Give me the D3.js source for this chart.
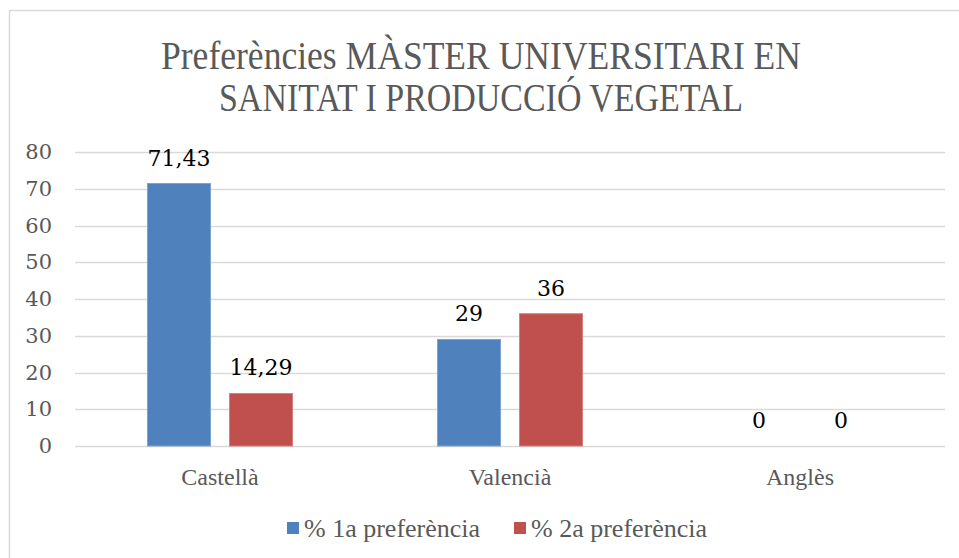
<!DOCTYPE html>
<html>
<head>
<meta charset="utf-8">
<script src="https://cdn.jsdelivr.net/npm/d3@7"></script>
<style>
  body { margin: 0; background: #fff; }
  text { font-family: "Liberation Serif", "DejaVu Serif", serif; }
</style>
</head>
<body>
<div id="chart"></div>
<script>
var titleLines = ["Preferències MÀSTER UNIVERSITARI EN", "SANITAT I PRODUCCIÓ VEGETAL"];
var categories = ["Castellà", "Valencià", "Anglès"];
var seriesNames = ["% 1a preferència", "% 2a preferència"];
var first = [71.43, 29, 0];
var second = [14.29, 36, 0];
var labels1 = ["71,43", "29", "0"];
var labels2 = ["14,29", "36", "0"];
var yTicks = [0, 10, 20, 30, 40, 50, 60, 70, 80];
var colors = ["#4F81BD", "#C0504D"];
var strokes = ["#7FA3D1", "#D47F7D"];

(function () {
    var W = 959, H = 558;
    var margin = { top: 152, left: 75, right: 14, bottom: 112 },
        width = W - margin.left - margin.right,
        height = H - margin.top - margin.bottom;

    // stretch / squeeze text to mimic the metrics of the original font
    function fitWidth(sel, k) {
        sel.each(function () {
            var w = this.getComputedTextLength();
            d3.select(this).attr("textLength", w * k).attr("lengthAdjust", "spacingAndGlyphs");
        });
    }

    var svg = d3.select("#chart").append("svg")
        .attr("width", W).attr("height", H);

    // outer frame (cropped at right and bottom)
    svg.append("rect")
        .attr("x", 9.5).attr("y", 10.5)
        .attr("width", 1000).attr("height", 1000)
        .attr("fill", "none").attr("stroke", "#D9D9D9").attr("stroke-width", 1.5);

    svg.selectAll(".title").data(titleLines).enter().append("text")
        .attr("x", 481).attr("y", (d, i) => 69 + i * 42)
        .attr("text-anchor", "middle")
        .attr("font-size", 40).attr("fill", "#595959")
        .attr("textLength", (d, i) => i === 0 ? 640 : 524)
        .attr("lengthAdjust", "spacingAndGlyphs")
        .text(d => d);

    var g = svg.append("g")
        .attr("transform", "translate(" + margin.left + "," + margin.top + ")");

    var x0 = d3.scaleBand().domain(categories).range([0, width]).paddingInner(0).paddingOuter(0);
    var x1 = d3.scaleBand().domain([0, 1]).range([72, x0.bandwidth() - 72]).paddingInner(0.22);
    var y = d3.scaleLinear().domain([0, 80]).range([height, 0]);

    g.selectAll(".grid").data(yTicks).enter().append("line")
        .attr("x1", 0).attr("x2", width)
        .attr("y1", d => Math.round(y(d)) + 0.5).attr("y2", d => Math.round(y(d)) + 0.5)
        .attr("stroke", "#D9D9D9").attr("stroke-width", 1.5);

    var yAxis = g.append("g")
        .call(d3.axisLeft(y).tickValues(yTicks).tickSize(0).tickPadding(23));
    yAxis.attr("font-family", null);
    yAxis.select(".domain").remove();
    yAxis.selectAll("text")
        .attr("font-size", 21).attr("fill", "#595959")
        .style("font-family", "'DejaVu Serif', serif");

    var xAxis = g.append("g")
        .attr("transform", "translate(0," + height + ")")
        .call(d3.axisBottom(x0).tickSize(0).tickPadding(22));
    xAxis.attr("font-family", null);
    xAxis.select(".domain").remove();
    xAxis.selectAll("text")
        .attr("font-size", 24).attr("fill", "#595959")
        .style("font-family", "'Liberation Serif', serif")
        .call(fitWidth, 1.0);

    var series = [first, second];
    var seriesLabels = [labels1, labels2];

    series.forEach(function (vals, s) {
        var data = categories.map((c, i) => ({ c: c, v: vals[i], l: seriesLabels[s][i] }));
        g.selectAll(".bar" + s).data(data.filter(d => d.v > 0)).enter().append("rect")
            .attr("x", d => x0(d.c) + x1(s) + 0.5)
            .attr("width", x1.bandwidth() - 1)
            .attr("y", d => y(d.v))
            .attr("height", d => y(0) - y(d.v))
            .attr("fill", colors[s])
            .attr("stroke", strokes[s]).attr("stroke-width", 1);
        g.selectAll(".lbl" + s).data(data).enter().append("text")
            .attr("x", d => x0(d.c) + x1(s) + x1.bandwidth() / 2)
            .attr("y", d => y(d.v) - 18)
            .attr("text-anchor", "middle")
            .attr("font-size", 22).attr("fill", "#000")
            .style("font-family", "'DejaVu Serif', serif")
            .text(d => d.l);
    });

    // legend
    var legend = svg.append("g").attr("transform", "translate(0,529)");
    var lx = [287, 514];
    seriesNames.forEach(function (name, i) {
        legend.append("rect")
            .attr("x", lx[i]).attr("y", -7).attr("width", 12).attr("height", 12)
            .attr("fill", colors[i]);
        legend.append("text")
            .attr("x", lx[i] + 17).attr("y", 8)
            .attr("font-size", 25).attr("fill", "#595959")
            .text(name)
            .call(fitWidth, 1.04);
    });
})();
</script>
</body>
</html>
